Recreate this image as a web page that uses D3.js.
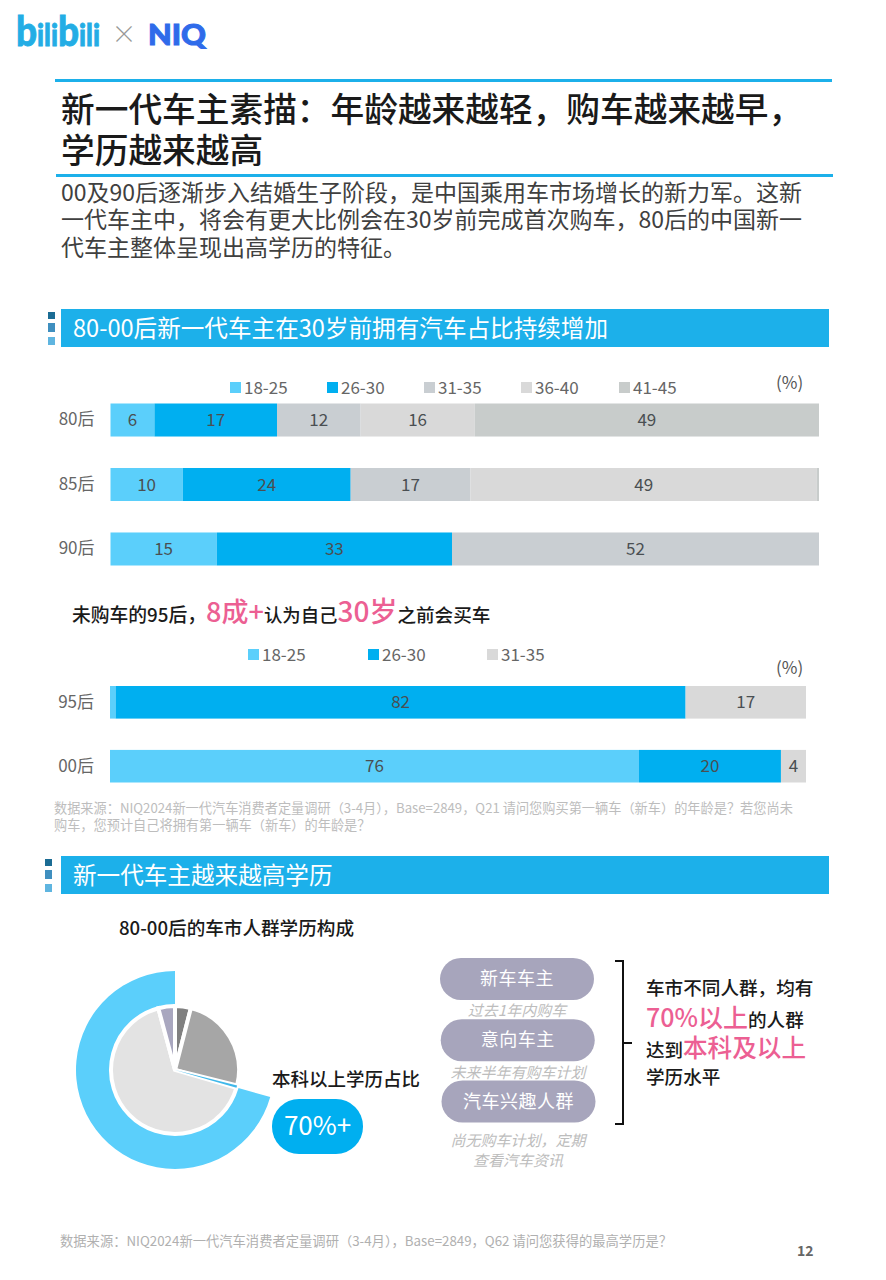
<!DOCTYPE html>
<html>
<head>
<meta charset="utf-8">
<script src="https://cdn.jsdelivr.net/npm/d3@7/dist/d3.min.js"></script>
<style>
  html, body { margin: 0; padding: 0; background: #fff; }
  svg { display: block; }
  text { font-family: "Noto Sans CJK SC", "Noto Sans", sans-serif; }
</style>
</head>
<body>
<svg id="page" width="886" height="1280"></svg>
<script>
// Ages at first car, by generation (%)
var ageGroups = ['18-25', '26-30', '31-35', '36-40', '41-45'];
var owners = ['80后', '85后', '90后'];
var owners1825 = [6.2, 10.2, 15.0];
var owners2630 = [17.3, 23.7, 33.2];
var owners3135 = [11.8, 16.9, 51.8];
var owners3640 = [16.1, 48.9, 0];
var owners4145 = [48.6, 0.3, 0];

var intenders = ['95后', '00后'];
var intenderGroups = ['18-25', '26-30', '31-35'];
var intenders1825 = [0.8, 76.0];
var intenders2630 = [81.9, 20.4];
var intenders3135 = [17.3, 3.6];

// Education mix, clockwise from 12 o'clock (%)
var eduSlices = ['dark', 'mid', 'sliver', 'light', 'lavender'];
var eduValues = [4.0, 24.9, 0.6, 66.3, 4.2];
var degreeShare = [29.4, 70.6];

var audiences = ['新车车主', '意向车主', '汽车兴趣人群'];

var blueLight = '#5bcffb', blue = '#00aff0', accent = '#1cb0ea', pink = '#ec5f93';
var ownerColors = {'18-25': blueLight, '26-30': blue, '31-35': '#c9ced2', '36-40': '#d9d9d9', '41-45': '#c8cccb'};
var intenderColors = {'18-25': blueLight, '26-30': blue, '31-35': '#d9d9d9'};
var eduColors = {dark: '#808080', mid: '#a6a6a6', sliver: '#3fb8ea', light: '#e3e3e3', lavender: '#a9a7bf'};

var svg = d3.select('#page');

function label(x, y, str, size, color, opts) {
  opts = opts || {};
  return svg.append('text')
    .attr('x', x).attr('y', y)
    .attr('font-size', size)
    .attr('fill', color)
    .attr('font-weight', opts.weight || 400)
    .attr('font-style', opts.style || null)
    .attr('text-anchor', opts.anchor || null)
    .text(str);
}

// mixed-size lines: runs = [[text, size, color], ...]
function richLabel(x, y, runs, weight) {
  var t = svg.append('text').attr('x', x).attr('y', y).attr('font-weight', weight || 500);
  runs.forEach(function(r) {
    t.append('tspan').attr('font-size', r[1]).attr('fill', r[2]).text(r[0]);
  });
}

function sectionHeader(y, str, markX) {
  svg.append('rect').attr('x', 61).attr('y', y).attr('width', 768).attr('height', 38).attr('fill', accent);
  label(73, y + 28, str, 23.6, '#fff');
  [[3, 7, '#1b6c94'], [14, 9, '#3f8fbf'], [28, 8, '#5fb5e0']].forEach(function(m) {
    svg.append('rect').attr('x', markX).attr('y', y + m[0]).attr('width', 7).attr('height', m[1]).attr('fill', m[2]);
  });
}

function legend(items, colors, xs, y) {
  var g = svg.append('g');
  items.forEach(function(d, i) {
    g.append('rect').attr('x', xs[i]).attr('y', y - 12).attr('width', 11).attr('height', 11).attr('fill', colors[d]);
    g.append('text').attr('x', xs[i] + 14).attr('y', y).attr('font-size', 17).attr('fill', '#666').text(d);
  });
}

function stackedBars(cfg) {
  var x = d3.scaleLinear().domain([0, 100]).range(cfg.xRange);
  var y = d3.scaleBand().domain(cfg.rows).range(cfg.yRange).paddingInner(cfg.padding).paddingOuter(0);
  var table = cfg.rows.map(function(row, i) {
    var o = {row: row};
    cfg.keys.forEach(function(k, j) { o[k] = cfg.series[j][i]; });
    return o;
  });
  var layers = d3.stack().keys(cfg.keys)(table);
  var g = svg.append('g');

  var cells = g.selectAll('g.layer').data(layers).join('g')
    .attr('class', 'layer')
    .attr('fill', function(d) { return cfg.colors[d.key]; })
    .selectAll('g').data(function(d) { return d; }).join('g');

  cells.append('rect')
    .attr('x', function(d) { return x(d[0]); })
    .attr('y', function(d) { return y(d.data.row); })
    .attr('width', function(d) { return x(d[1]) - x(d[0]); })
    .attr('height', y.bandwidth());

  cells.filter(function(d) { return d[1] - d[0] >= 2; }).append('text')
    .attr('x', function(d) { return (x(d[0]) + x(d[1])) / 2; })
    .attr('y', function(d) { return y(d.data.row) + y.bandwidth() / 2 + 6; })
    .attr('text-anchor', 'middle')
    .attr('font-size', 17)
    .attr('fill', '#4a4f52')
    .text(function(d) { return d3.format('.0f')(d[1] - d[0]); });

  var axis = g.append('g')
    .attr('transform', 'translate(' + cfg.xRange[0] + ',0)')
    .call(d3.axisLeft(y).tickSize(0).tickPadding(16));
  axis.select('.domain').remove();
  axis.selectAll('text').attr('font-size', 17).attr('fill', '#666').attr('font-family', null);
}

// logos
var bili = svg.append('text').attr('x', 16).attr('y', 46)
  .attr('fill', '#23ade5').attr('stroke', '#23ade5').attr('stroke-width', 0.8)
  .attr('font-weight', 900).style('font-family', 'Lato')
  .attr('textLength', 84).attr('lengthAdjust', 'spacingAndGlyphs');
[['b', 41], ['ili', 30], ['b', 41], ['ili', 30]].forEach(function(r) {
  bili.append('tspan').attr('font-size', r[1]).text(r[0]);
});
label(124, 43, '×', 25, '#999', {anchor: 'middle', weight: 300});
label(148, 45, 'NIQ', 28, '#2f6bea', {weight: 900})
  .style('font-family', 'Lato').attr('stroke', '#2f6bea').attr('stroke-width', 1)
  .attr('textLength', 58).attr('lengthAdjust', 'spacingAndGlyphs');

// heading block
svg.append('rect').attr('x', 55).attr('y', 79).attr('width', 777).attr('height', 3).attr('fill', accent);
svg.append('rect').attr('x', 56).attr('y', 174).attr('width', 777).attr('height', 3).attr('fill', accent);
label(61, 122, '新一代车主素描：年龄越来越轻，购车越来越早，', 33.7, '#1a1a1a', {weight: 500});
label(61, 163, '学历越来越高', 33.7, '#1a1a1a', {weight: 500});
label(61, 201, '00及90后逐渐步入结婚生子阶段，是中国乘用车市场增长的新力军。这新', 23, '#404040');
label(61, 228, '一代车主中，将会有更大比例会在30岁前完成首次购车，80后的中国新一', 23, '#404040');
label(61, 256, '代车主整体呈现出高学历的特征。', 23, '#404040');

sectionHeader(309, '80-00后新一代车主在30岁前拥有汽车占比持续增加', 48);

legend(ageGroups, ownerColors, [230, 327, 424, 521, 619], 394);
label(776, 389, '(%)', 17, '#555');
stackedBars({
  rows: owners,
  keys: ageGroups,
  colors: ownerColors,
  series: [owners1825, owners2630, owners3135, owners3640, owners4145],
  xRange: [110.5, 819],
  yRange: [403.5, 565.5],
  padding: 0.488
});

richLabel(72, 622, [
  ['未购车的95后，', 18.8, '#1a1a1a'],
  ['8成+', 27, pink],
  ['认为自己', 18.4, '#1a1a1a'],
  ['30岁', 28, pink],
  ['之前会买车', 18.6, '#1a1a1a']
]);

legend(intenderGroups, intenderColors, [248, 368, 487], 661);
label(776, 674, '(%)', 17, '#555');
stackedBars({
  rows: intenders,
  keys: intenderGroups,
  colors: intenderColors,
  series: [intenders1825, intenders2630, intenders3135],
  xRange: [110, 806],
  yRange: [686, 782.5],
  padding: 0.49
});

label(54, 813, '数据来源：NIQ2024新一代汽车消费者定量调研（3-4月），Base=2849，Q21 请问您购买第一辆车（新车）的年龄是？若您尚未', 13.2, '#bdbdbd');
label(54, 830, '购车，您预计自己将拥有第一辆车（新车）的年龄是？', 13.2, '#bdbdbd');

sectionHeader(856, '新一代车主越来越高学历', 45);

label(119, 935, '80-00后的车市人群学历构成', 18.6, '#1a1a1a', {weight: 500});

// education pie with the bachelor+ ring around it
var pieG = svg.append('g').attr('transform', 'translate(175,1070)');
var pie = d3.pie().sort(null);
var ringArcs = pie(degreeShare);
pieG.append('path')
  .attr('d', d3.arc().innerRadius(64).outerRadius(99)(ringArcs[1]))
  .attr('fill', blueLight);

var sliceArc = d3.arc().innerRadius(0).outerRadius(64);
var sliceData = pie(eduValues);
pieG.selectAll('path.slice').data(sliceData).join('path')
  .attr('class', 'slice')
  .attr('d', sliceArc)
  .attr('fill', function(d, i) { return eduColors[eduSlices[i]]; })
  .attr('stroke', '#fff')
  .attr('stroke-width', function(d, i) { return eduSlices[i] === 'sliver' ? 0 : 4; })
  .sort(function(a, b) { return a.index === 2 ? 1 : b.index === 2 ? -1 : 0; });

label(272, 1086, '本科以上学历占比', 18.5, '#1a1a1a', {weight: 500});
svg.append('rect').attr('x', 272).attr('y', 1099).attr('width', 91).attr('height', 55).attr('rx', 27).attr('fill', blue);
label(317.5, 1135, '70%+', 26, '#fff', {anchor: 'middle'});

// audience pills
var pillX = d3.scalePoint().domain(audiences).range([517, 518.5]);
var pillY = d3.scalePoint().domain(audiences).range([979, 1101.5]);
audiences.forEach(function(d) {
  svg.append('rect')
    .attr('x', pillX(d) - 77).attr('y', pillY(d) - 21)
    .attr('width', 154).attr('height', 42).attr('rx', 21)
    .attr('fill', '#a7a5bc');
  label(pillX(d), pillY(d) + 6, d, 18, '#fff', {anchor: 'middle'}).attr('letter-spacing', 0.5);
});
label(517, 1016, '过去1年内购车', 15, '#bdbdbd', {anchor: 'middle', style: 'italic'});
label(518, 1078, '未来半年有购车计划', 15, '#bdbdbd', {anchor: 'middle', style: 'italic'});
label(518, 1146, '尚无购车计划，定期', 15, '#bdbdbd', {anchor: 'middle', style: 'italic'});
label(518, 1166, '查看汽车资讯', 15, '#bdbdbd', {anchor: 'middle', style: 'italic'});

// bracket
svg.append('path')
  .attr('d', d3.line()([[615, 961], [623, 961], [623, 1124], [615, 1124]]))
  .attr('fill', 'none').attr('stroke', '#111').attr('stroke-width', 2);
svg.append('path')
  .attr('d', d3.line()([[623, 1043], [632, 1043]]))
  .attr('fill', 'none').attr('stroke', '#111').attr('stroke-width', 2);

richLabel(646, 995, [['车市不同人群，均有', 18.6, '#1a1a1a']]);
richLabel(646, 1027, [['70%以上', 25, pink], ['的人群', 18.6, '#1a1a1a']]);
richLabel(646, 1057, [['达到', 18.5, '#1a1a1a'], ['本科及以上', 24.6, pink]]);
richLabel(646, 1084, [['学历水平', 18.6, '#1a1a1a']]);

label(60, 1246, '数据来源：NIQ2024新一代汽车消费者定量调研（3-4月），Base=2849，Q62 请问您获得的最高学历是？', 13.3, '#b0b0b0');
label(797, 1256, '12', 14, '#666', {weight: 700});
</script>
</body>
</html>
